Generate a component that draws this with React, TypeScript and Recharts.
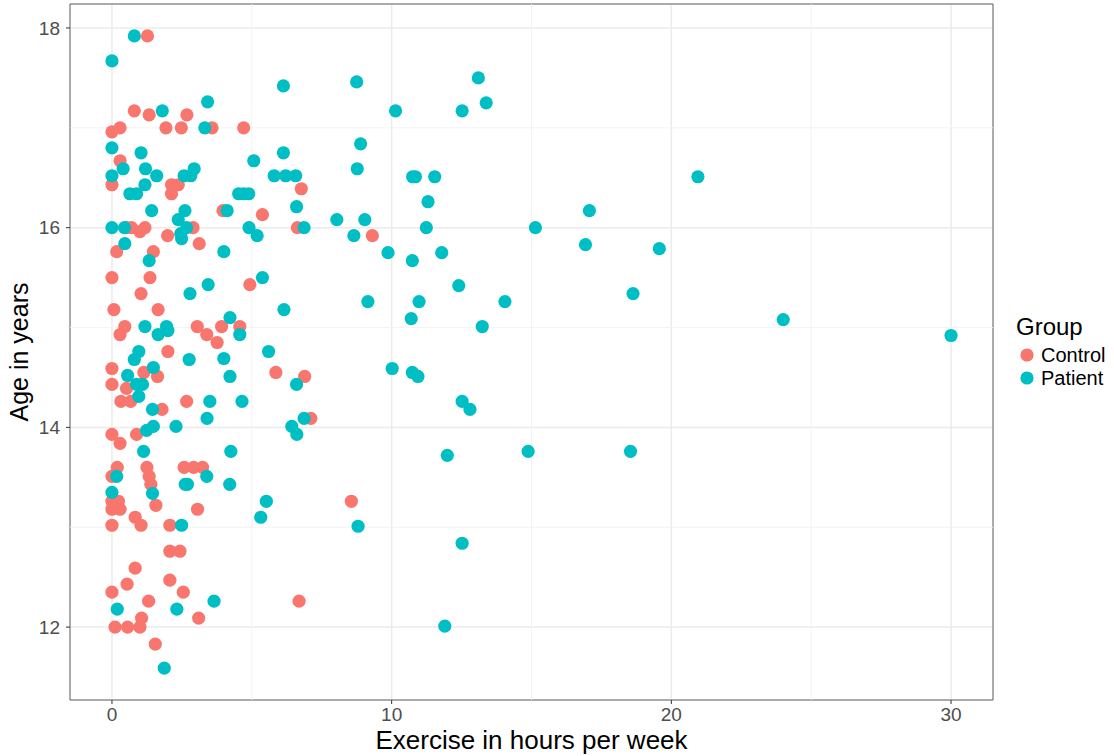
import {
  ScatterChart,
  Scatter,
  XAxis,
  YAxis,
  CartesianGrid,
  ReferenceArea,
  ReferenceLine,
} from "recharts";

const controlExercise = [
  1.27, 0.8, 1.33, 2.68, 0, 0.29, 1.93, 2.48, 3.58, 4.71, 0.29, 0, 2.13, 2.37, 2.13, 6.77, 3.97, 5.38,
  0.52, 0.7, 1.0, 1.18, 2.9, 6.63, 1.99, 3.12, 0.17, 1.48, 0, 1.36, 4.93, 1.04, 0.07, 1.65, 0.46, 0.29,
  3.05, 3.39, 3.92, 4.57, 3.76, 2.0, 0, 1.14, 1.63, 5.86, 6.89, 0, 0.52, 0.32, 0.67, 2.67, 1.79, 7.11,
  0, 0.29, 0.88, 0.19, 0, 1.25, 1.33, 1.39, 2.58, 2.92, 3.24, 0, 0.23, 0, 0.29, 1.57, 3.06, 8.56,
  0.83, 0, 1.04, 2.07, 2.07, 2.43, 0.83, 2.07, 0.54, 0, 2.55, 1.31, 6.69, 1.06, 3.1, 0.11, 0.56, 1.0,
  1.55, 9.31,
];
const controlAge = [
  17.92, 17.17, 17.13, 17.13, 16.96, 17.0, 17.0, 17.0, 17.0, 17.0, 16.67, 16.43, 16.43, 16.43, 16.34,
  16.39, 16.17, 16.13, 16.0, 16.0, 15.96, 16.0, 16.0, 16.0, 15.92, 15.84, 15.76, 15.76, 15.5, 15.5,
  15.43, 15.34, 15.18, 15.18, 15.01, 14.93, 15.01, 14.93, 15.01, 15.01, 14.85, 14.76, 14.59, 14.55,
  14.51, 14.55, 14.51, 14.43, 14.39, 14.26, 14.26, 14.26, 14.18, 14.09, 13.93, 13.84, 13.93, 13.6,
  13.51, 13.6, 13.51, 13.43, 13.6, 13.6, 13.6, 13.26, 13.26, 13.18, 13.18, 13.22, 13.18, 13.26, 13.1,
  13.02, 13.02, 13.02, 12.76, 12.76, 12.59, 12.47, 12.43, 12.35, 12.35, 12.26, 12.26, 12.09, 12.09,
  12.0, 12.0, 12.0, 11.83, 15.92,
];

const patientExercise = [
  0.8, 0, 6.13, 3.42, 1.8, 3.32, 0, 1.04, 5.07, 6.13, 0.4, 1.2, 2.94, 0, 1.6, 2.58, 2.82, 5.8, 6.21,
  6.57, 0.64, 0.88, 1.18, 4.53, 4.71, 4.89, 1.42, 2.61, 4.12, 6.6, 8.04, 2.37, 0, 0.45, 2.67, 4.9,
  5.19, 6.87, 2.46, 2.49, 0.46, 4.0, 1.33, 5.38, 3.44, 2.79, 6.15, 4.22, 1.18, 1.65, 1.95, 2.0, 4.57,
  0.96, 5.6, 2.76, 4.0, 0.8, 1.48, 0.56, 4.22, 6.6, 0.88, 1.09, 0.96, 3.5, 4.65, 1.45, 3.4, 6.87, 6.43,
  6.61, 1.48, 1.24, 2.29, 1.13, 4.25, 0.17, 1.45, 3.39, 2.62, 2.7, 4.21, 0, 5.52, 5.32, 2.49, 3.65,
  0.19, 2.32, 1.87, 8.75, 13.1, 13.38, 10.14, 12.52, 8.89, 8.77, 10.75, 10.85, 11.54, 11.3, 20.95,
  9.04, 8.65, 11.24, 15.14, 17.07, 16.93, 19.57, 9.87, 10.74, 11.79, 12.4, 18.63, 9.15, 10.98, 14.05,
  10.7, 13.24, 10.02, 10.74, 10.94, 12.52, 12.8, 11.99, 14.88, 18.54, 8.8, 12.52, 11.9, 24.0, 30.0,
];
const patientAge = [
  17.92, 17.67, 17.42, 17.26, 17.17, 17.0, 16.8, 16.75, 16.67, 16.75, 16.59, 16.59, 16.59, 16.52,
  16.52, 16.52, 16.52, 16.52, 16.52, 16.52, 16.34, 16.34, 16.43, 16.34, 16.34, 16.34, 16.17, 16.17,
  16.17, 16.21, 16.08, 16.08, 16.0, 16.0, 16.0, 16.0, 15.92, 16.0, 15.94, 15.89, 15.84, 15.76, 15.67,
  15.5, 15.43, 15.34, 15.18, 15.1, 15.01, 14.93, 15.01, 14.97, 14.93, 14.76, 14.76, 14.68, 14.69,
  14.68, 14.6, 14.52, 14.51, 14.43, 14.43, 14.43, 14.31, 14.26, 14.26, 14.18, 14.09, 14.09, 14.01,
  13.93, 14.01, 13.97, 14.01, 13.76, 13.76, 13.51, 13.34, 13.51, 13.43, 13.43, 13.43, 13.35, 13.26,
  13.1, 13.02, 12.26, 12.18, 12.18, 11.59, 17.46, 17.5, 17.25, 17.17, 17.17, 16.84, 16.59, 16.51,
  16.51, 16.51, 16.26, 16.51, 16.08, 15.92, 16.0, 16.0, 16.17, 15.83, 15.79, 15.75, 15.67, 15.75,
  15.42, 15.34, 15.26, 15.26, 15.26, 15.09, 15.01, 14.59, 14.55, 14.51, 14.26, 14.18, 13.72, 13.76,
  13.76, 13.01, 12.84, 12.01, 15.08, 14.92,
];

const xTicks = [0, 10, 20, 30];
const yTicks = [12, 14, 16, 18];
const xMinor = [5, 15, 25];
const yMinor = [13, 15, 17];

const groups = ["Control", "Patient"];
const groupColors = ["#F8766D", "#00BFC4"];

const FONT = "'Liberation Sans', Arial, Helvetica, sans-serif";
const X_DOMAIN = [-1.5, 31.5];
const Y_DOMAIN = [11.27, 18.24];

const controlData = controlExercise.map((x, i) => ({ x, y: controlAge[i] }));
const patientData = patientExercise.map((x, i) => ({ x, y: patientAge[i] }));

const dot = (color: string) => (props: any) =>
  props.cx == null ? null : <circle cx={props.cx} cy={props.cy} r={6.6} fill={color} />;

export default function App() {
  return (
    <div style={{ position: "absolute", left: 0, top: 0, width: 1114, height: 756, background: "#fff" }}>
      <ScatterChart width={1114} height={756} margin={{ top: 4, right: 121, bottom: 0, left: 0 }}>
        <CartesianGrid stroke="#ebebeb" strokeWidth={1.5} />
        {xMinor.map((v) => (
          <ReferenceLine key={`vx${v}`} x={v} stroke="#f2f2f2" strokeWidth={0.9} />
        ))}
        {yMinor.map((v) => (
          <ReferenceLine key={`hy${v}`} y={v} stroke="#f2f2f2" strokeWidth={0.9} />
        ))}
        <XAxis
          type="number"
          dataKey="x"
          domain={X_DOMAIN}
          ticks={xTicks}
          allowDataOverflow
          height={56}
          axisLine={false}
          tickSize={4}
          tickMargin={4}
          tickLine={{ stroke: "#333" }}
          tick={{ fontSize: 19, fill: "#4d4d4d", fontFamily: FONT }}
          label={{
            content: ({ viewBox }: any) => (
              <text
                x={viewBox.x + viewBox.width / 2}
                y={viewBox.y + 49}
                textAnchor="middle"
                fontSize={26}
                fontFamily={FONT}
                fill="#000"
              >
                Exercise in hours per week
              </text>
            ),
          }}
        />
        <YAxis
          type="number"
          dataKey="y"
          domain={Y_DOMAIN}
          ticks={yTicks}
          allowDataOverflow
          width={70}
          axisLine={false}
          tickSize={4}
          tickMargin={6}
          tickLine={{ stroke: "#333" }}
          tick={{ fontSize: 19, fill: "#4d4d4d", fontFamily: FONT }}
          label={{
            content: ({ viewBox }: any) => {
              const cx = viewBox.x + 28;
              const cy = viewBox.y + viewBox.height / 2;
              return (
                <text
                  x={cx}
                  y={cy}
                  transform={`rotate(-90, ${cx}, ${cy})`}
                  textAnchor="middle"
                  fontSize={25}
                  fontFamily={FONT}
                  fill="#000"
                >
                  Age in years
                </text>
              );
            },
          }}
        />
        <ReferenceArea
          x1={X_DOMAIN[0]}
          x2={X_DOMAIN[1]}
          y1={Y_DOMAIN[0]}
          y2={Y_DOMAIN[1]}
          fill="none"
          fillOpacity={0}
          stroke="#666"
          strokeWidth={1}
          ifOverflow="visible"
        />
        <Scatter name="Control" data={controlData} shape={dot(groupColors[0])} isAnimationActive={false} />
        <Scatter name="Patient" data={patientData} shape={dot(groupColors[1])} isAnimationActive={false} />
      </ScatterChart>

      <svg style={{ position: "absolute", left: 1000, top: 300 }} width={114} height={100}>
        <text x={16} y={35} fontSize={24} fontFamily={FONT} fill="#000">
          Group
        </text>
        {groups.map((g, i) => (
          <g key={g}>
            <circle cx={27} cy={55 + i * 23} r={6.6} fill={groupColors[i]} />
            <text x={41} y={62 + i * 23} fontSize={20} fontFamily={FONT} fill="#000">
              {g}
            </text>
          </g>
        ))}
      </svg>
    </div>
  );
}
